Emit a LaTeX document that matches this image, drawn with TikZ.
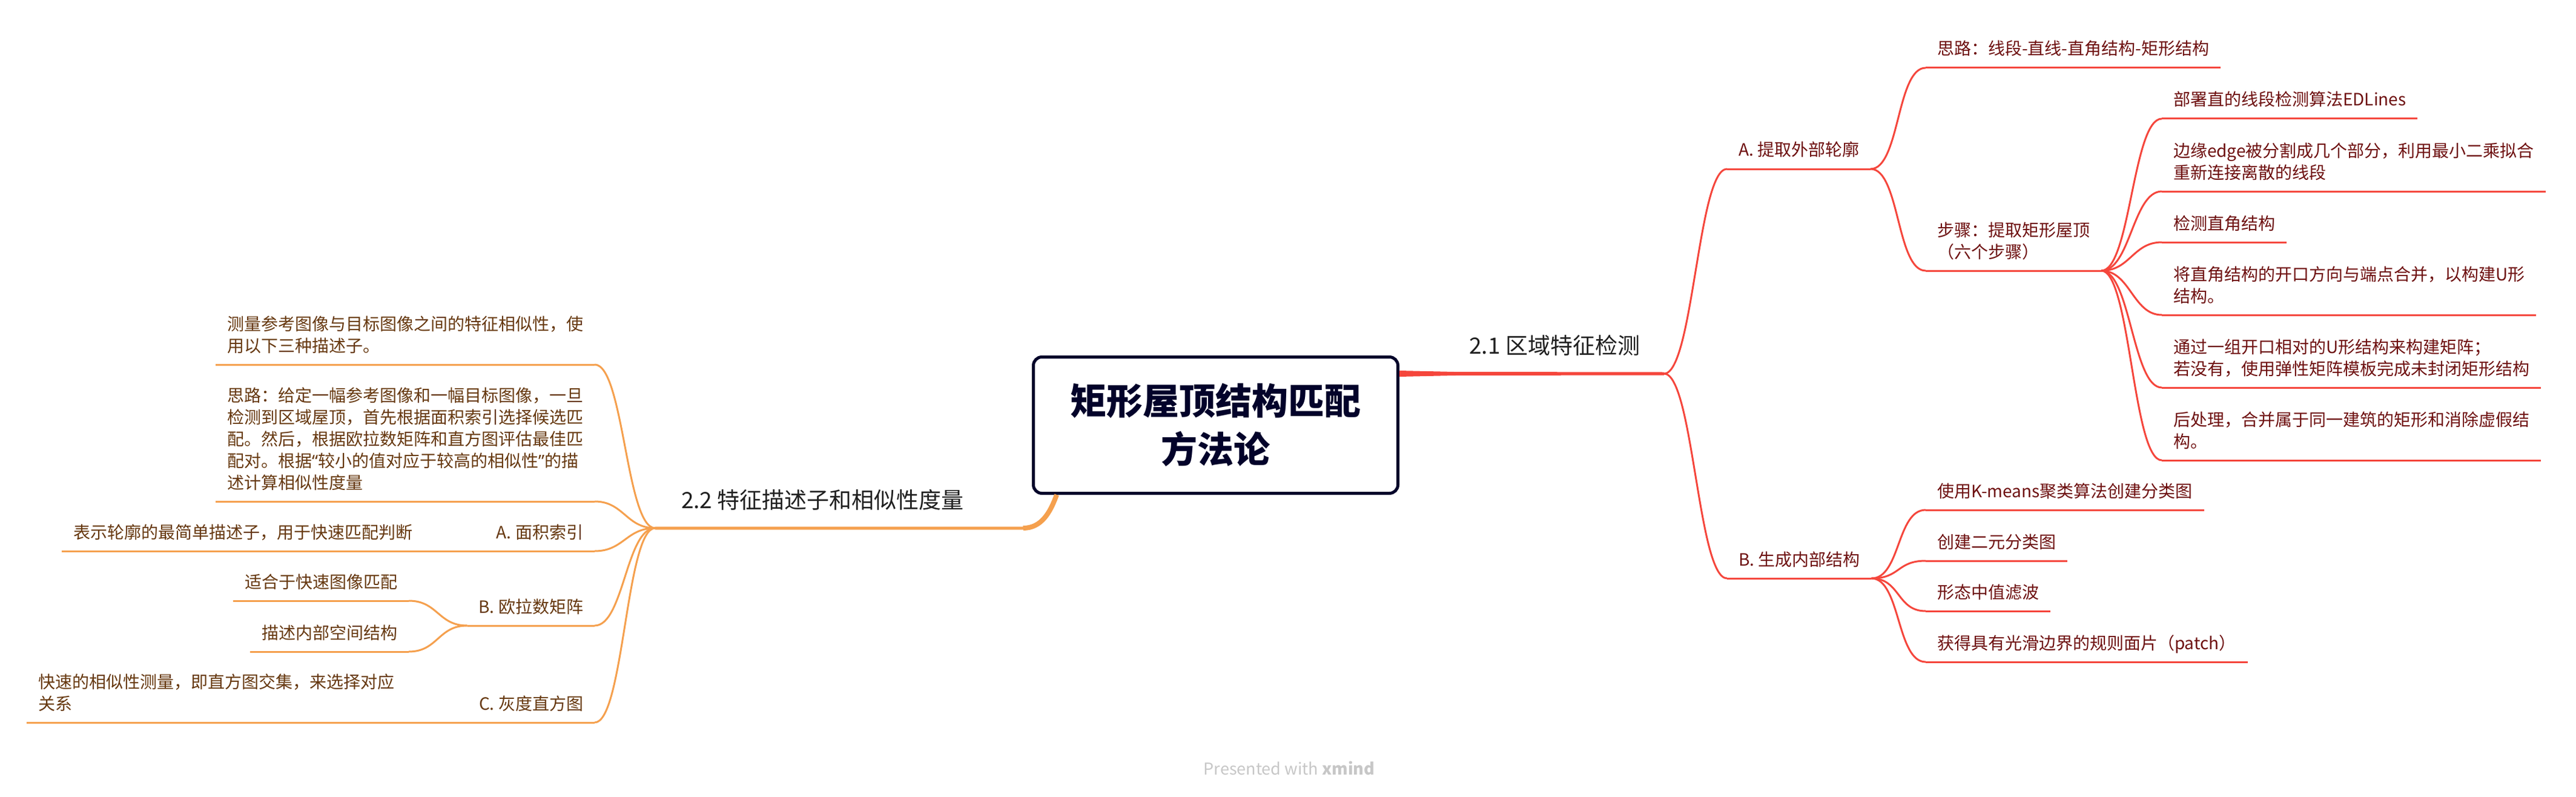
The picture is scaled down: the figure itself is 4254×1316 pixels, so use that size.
\documentclass[tikz,border=0pt]{standalone}
\usepackage{fontspec}
\setmainfont{Noto Sans CJK SC}
\newfontfamily\latinq{Noto Sans}
\usetikzlibrary{positioning}

\definecolor{redline}{HTML}{F5463C}
\definecolor{redtext}{HTML}{6E1010}
\definecolor{orangeline}{HTML}{F5A04E}
\definecolor{browntext}{HTML}{66380F}
\definecolor{navy}{HTML}{03032A}
\newcommand{\dpstrut}{\rule[-10pt]{0pt}{10pt}}

\begin{document}
\begin{tikzpicture}[x=1pt, y=-1pt,
  topic/.style={inner xsep=19pt, inner ysep=11pt, outer sep=0pt, align=left,
    font=\fontsize{28}{36}\selectfont, execute at end node=\dpstrut},
  rsub/.style={topic, anchor=south west, text=redtext},
  lsub/.style={topic, anchor=south east, text=browntext},
  mainsub/.style={topic, font=\fontsize{37}{46}\selectfont, inner ysep=23pt, text=black!88},
  rlink/.style={draw=redline, line width=3pt},
  llink/.style={draw=orangeline, line width=3pt},
  rto/.style={out=0, in=180, distance=48pt},
  lto/.style={out=180, in=0, distance=48pt}]
\fill[white, use as bounding box] (0,0) rectangle (4254,1316);

% the central topic
  \node[draw=navy, line width=5pt, rounded corners=14pt, minimum width=602pt, minimum height=225pt,
        inner sep=0pt, align=center, text=navy, font=\bfseries\fontsize{60}{80}\selectfont]
        (root) at (2007.5,702) {矩形屋顶结构匹配\\方法论};

% define the main topics
  \node[mainsub, anchor=south east, inner xsep=40pt] (t21) at (2748,617) {2.1 区域特征检测};
  \node[mainsub, anchor=south west, inner xsep=43pt] (t22) at (1082,872) {2.2 特征描述子和相似性度量};

% right side: 2.1
  \node[rsub] (pA) at (2852,279) {A. 提取外部轮廓};
  \node[rsub] (pB) at (2852,955) {B. 生成内部结构};
  \node[rsub] (a1) at (3180,112) {思路：线段-直线-直角结构-矩形结构};
  \node[rsub] (a2) at (3180,447) {步骤：提取矩形屋顶\\（六个步骤）};
  \node[rsub] (s1) at (3570,196) {部署直的线段检测算法EDLines};
  \node[rsub] (s2) at (3570,316) {边缘edge被分割成几个部分，利用最小二乘拟合\\重新连接离散的线段};
  \node[rsub] (s3) at (3570,400) {检测直角结构};
  \node[rsub] (s4) at (3570,520) {将直角结构的开口方向与端点合并，以构建U形\\结构。};
  \node[rsub] (s5) at (3570,640) {通过一组开口相对的U形结构来构建矩阵；\\若没有，使用弹性矩阵模板完成未封闭矩形结构};
  \node[rsub] (s6) at (3570,760) {后处理，合并属于同一建筑的矩形和消除虚假结\\构。};
  \node[rsub] (b1) at (3180,842) {使用K-means聚类算法创建分类图};
  \node[rsub] (b2) at (3180,926) {创建二元分类图};
  \node[rsub] (b3) at (3180,1009) {形态中值滤波};
  \node[rsub] (b4) at (3180,1093) {获得具有光滑边界的规则面片（patch）};

% left side: 2.2
  \node[lsub] (c1) at (982,602) {测量参考图像与目标图像之间的特征相似性，使\\用以下三种描述子。};
  \node[lsub] (c2) at (982,828) {思路：给定一幅参考图像和一幅目标图像，一旦\\检测到区域屋顶，首先根据面积索引选择候选匹\\配。然后，根据欧拉数矩阵和直方图评估最佳匹\\配对。根据{\latinq “}较小的值对应于较高的相似性{\latinq ”}的描\\述计算相似性度量};
  \node[lsub] (qA) at (982,910) {A. 面积索引};
  \node[lsub] (qB) at (982,1033) {B. 欧拉数矩阵};
  \node[lsub] (qC) at (982,1193) {C. 灰度直方图};
  \node[lsub] (e1) at (700,910) {表示轮廓的最简单描述子，用于快速匹配判断};
  \node[lsub] (e2) at (675,992) {适合于快速图像匹配};
  \node[lsub] (e3) at (675,1076) {描述内部空间结构};
  \node[lsub] (e4) at (670,1193) {快速的相似性测量，即直方图交集，来选择对应\\关系};

  \node[text=black!22, font=\fontsize{27}{30}\selectfont, inner sep=0pt] (wm) at (2129,1268)
        {Presented with \textbf{xmind}};

% underlines
  \foreach \n in {pA,pB,a1,a2,s1,s2,s3,s4,s5,s6,b1,b2,b3,b4}
    \draw[rlink] (\n.south west) -- (\n.south east);
  \foreach \n in {c1,c2,qA,qB,qC,e1,e2,e3,e4}
    \draw[llink] (\n.south west) -- (\n.south east);

% define the links
  \coordinate (r21) at (root.east |- t21.south);
  \fill[redline] ([yshift=5pt]r21) -- ([xshift=90pt,yshift=3pt]r21) -- ([yshift=2.5pt]t21.south east)
     -- ([yshift=-2.5pt]t21.south east) -- ([xshift=90pt,yshift=-3pt]r21) -- ([yshift=-5pt]r21) -- cycle;
  \coordinate (r22) at ([xshift=41pt]root.south west);
  \draw[orangeline, line width=5pt] (t22.south west) -- ([xshift=55pt]t22.south east) to[out=0, in=-110] (r22);
  \draw[orangeline, line width=8pt] ([xshift=55pt]t22.south east) to[out=0, in=-110] (r22);

  \path[rlink] (t21.south east) edge[rto] (pA.south west)
                                edge[rto] (pB.south west)
               (pA.south east)  edge[rto] (a1.south west)
                                edge[rto] (a2.south west);
  \foreach \n in {s1,s2,s3,s4,s5,s6}
    \draw[rlink] (a2.south east) to[rto] (\n.south west);
  \foreach \n in {b1,b2,b3,b4}
    \draw[rlink] (pB.south east) to[rto] (\n.south west);

  \foreach \n in {c1,c2,qA,qB,qC}
    \draw[llink] (t22.south west) to[lto] (\n.south east);
  \draw[llink] (qA.south west) -- (e1.south east);
  \draw[llink] (qB.south west) to[lto] (e2.south east);
  \draw[llink] (qB.south west) to[lto] (e3.south east);
  \draw[llink] (qC.south west) -- (e4.south east);
\end{tikzpicture}
\end{document}
